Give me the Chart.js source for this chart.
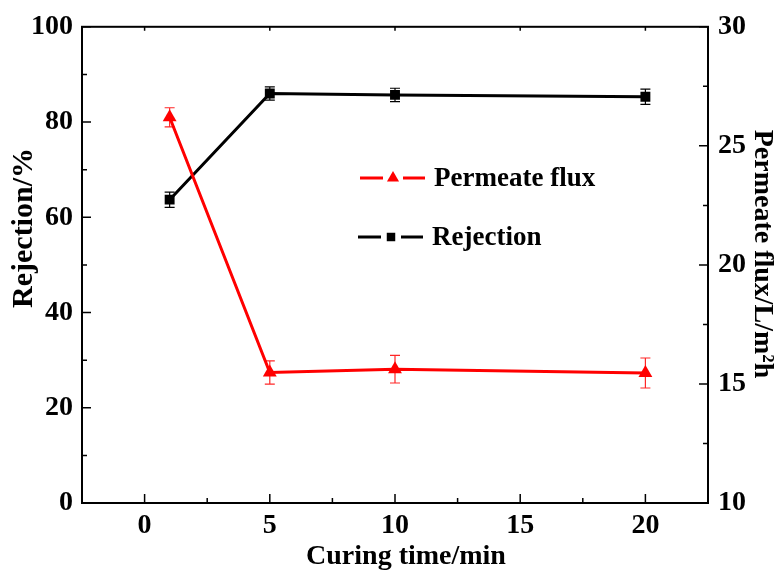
<!DOCTYPE html>
<html>
<head>
<meta charset="utf-8">
<script src="https://cdn.jsdelivr.net/npm/chart.js@4"></script>
<style>
  body { margin: 0; background: #fff; }
  #wrap { width: 783px; height: 581px; }
</style>
</head>
<body>
<div id="wrap"><canvas id="chart"></canvas></div>
<script>
const curingTime = [1, 5, 10, 20];
const rejection = [63.7, 86.0, 85.7, 85.3];
const rejectionErr = [1.6, 1.4, 1.4, 1.6];
const flux = [26.2, 15.48, 15.62, 15.46];
const fluxErr = [0.4, 0.49, 0.58, 0.63];
const xTicks = [0, 5, 10, 15, 20];
const leftTicks = [0, 20, 40, 60, 80, 100];
const rightTicks = [10, 15, 20, 25, 30];

const FONT = '"Liberation Serif", "Times New Roman", serif';

// error bars, drawn under the markers
const errorBars = {
    id: 'errorBars',
    beforeDatasetsDraw(chart) {
        const ctx = chart.ctx;
        chart.data.datasets.forEach((ds, i) => {
            const meta = chart.getDatasetMeta(i);
            const yScale = chart.scales[ds.yAxisID];
            ctx.save();
            ctx.strokeStyle = ds.errColor;
            ctx.lineWidth = 1.2;
            meta.data.forEach((pt, j) => {
                const v = ds.data[j].y;
                const e = ds.err[j];
                const top = yScale.getPixelForValue(v + e);
                const bot = yScale.getPixelForValue(v - e);
                ctx.beginPath();
                ctx.moveTo(pt.x, top); ctx.lineTo(pt.x, bot);
                ctx.moveTo(pt.x - 5, top); ctx.lineTo(pt.x + 5, top);
                ctx.moveTo(pt.x - 5, bot); ctx.lineTo(pt.x + 5, bot);
                ctx.stroke();
            });
            ctx.restore();
        });
    }
};

// frame, inward ticks, titles, legend
const decorations = {
    id: 'decorations',
    afterDraw(chart) {
        const ctx = chart.ctx;
        const a = chart.chartArea;
        const { x, y, y1 } = chart.scales;
        ctx.save();
        ctx.strokeStyle = '#000';
        ctx.lineWidth = 2;
        ctx.strokeRect(a.left, a.top, a.right - a.left, a.bottom - a.top);

        ctx.lineWidth = 1.5;
        ctx.beginPath();
        for (let v = -2.5; v <= 22.5; v += 2.5) {
            const px = x.getPixelForValue(v);
            const major = xTicks.includes(v);
            ctx.moveTo(px, a.bottom); ctx.lineTo(px, a.bottom - (major ? 9 : 5));
            if (major) { ctx.moveTo(px, a.top); ctx.lineTo(px, a.top + 4); }
        }
        for (let v = 0; v <= 100; v += 10) {
            const py = y.getPixelForValue(v);
            ctx.moveTo(a.left, py); ctx.lineTo(a.left + (v % 20 === 0 ? 9 : 5), py);
        }
        for (let v = 10; v <= 30; v += 2.5) {
            const py = y1.getPixelForValue(v);
            ctx.moveTo(a.right, py); ctx.lineTo(a.right - (v % 5 === 0 ? 9 : 5), py);
        }
        ctx.stroke();

        // axis titles
        ctx.fillStyle = '#000';
        ctx.font = 'bold 28px ' + FONT;
        ctx.textAlign = 'center';
        ctx.textBaseline = 'middle';
        ctx.fillText('Curing time/min', (a.left + a.right) / 2 + 11, 557);

        ctx.save();
        ctx.font = 'bold 30px ' + FONT;
        ctx.translate(24, 228);
        ctx.rotate(-Math.PI / 2);
        ctx.fillText('Rejection/%', 0, 0);
        ctx.restore();

        ctx.save();
        ctx.translate(762, 254);
        ctx.rotate(Math.PI / 2);
        ctx.fillText('Permeate flux/L/m\u00B2h', 0, 0);
        ctx.restore();

        // legend
        const items = [
            { ds: chart.data.datasets[0], lx: 360, ly: 178 },
            { ds: chart.data.datasets[1], lx: 358, ly: 237 }
        ];
        items.forEach(it => {
            ctx.strokeStyle = it.ds.borderColor;
            ctx.lineWidth = 3;
            ctx.beginPath();
            ctx.moveTo(it.lx, it.ly); ctx.lineTo(it.lx + 23, it.ly);
            ctx.moveTo(it.lx + 43, it.ly); ctx.lineTo(it.lx + 65, it.ly);
            ctx.stroke();
            ctx.fillStyle = it.ds.borderColor;
            Chart.helpers.drawPoint(ctx, {
                pointStyle: it.ds.pointStyle, radius: it.ds.pointStyle === 'rect' ? 6 : 7,
                borderWidth: 0, rotation: 0
            }, it.lx + 33, it.ly);
            ctx.fillStyle = '#000';
            ctx.font = 'bold 27px ' + FONT;
            ctx.textAlign = 'left';
            ctx.fillText(it.ds.label, it.lx + 74, it.ly + 1);
        });
        ctx.restore();
    }
};

const fluxPoints = curingTime.map((t, i) => ({ x: t, y: flux[i] }));
const rejectionPoints = curingTime.map((t, i) => ({ x: t, y: rejection[i] }));

new Chart(document.getElementById('chart'), {
    type: 'line',
    data: {
        datasets: [
            {
                label: 'Permeate flux',
                data: fluxPoints,
                err: fluxErr,
                errColor: 'rgba(255,0,0,0.85)',
                yAxisID: 'y1',
                borderColor: '#ff0000',
                backgroundColor: '#ff0000',
                borderWidth: 3,
                pointStyle: 'triangle',
                pointRadius: 8,
                pointBorderWidth: 0,
                tension: 0
            },
            {
                label: 'Rejection',
                data: rejectionPoints,
                err: rejectionErr,
                errColor: '#000',
                yAxisID: 'y',
                borderColor: '#000000',
                backgroundColor: '#000000',
                borderWidth: 3,
                pointStyle: 'rect',
                pointRadius: 7,
                pointBorderWidth: 0,
                tension: 0
            }
        ]
    },
    options: {
        responsive: true,
        maintainAspectRatio: false,
        animation: false,
        layout: { padding: { top: 24, left: 0, right: 0, bottom: 0 } },
        plugins: { legend: { display: false }, tooltip: { enabled: false } },
        scales: {
            x: {
                type: 'linear',
                min: -2.5,
                max: 22.5,
                afterBuildTicks: s => { s.ticks = xTicks.map(v => ({ value: v })); },
                afterFit: s => { s.height = 78; },
                grid: { display: false, drawTicks: false },
                border: { display: false },
                ticks: { color: '#000', padding: 6, font: { family: FONT, size: 28, weight: 'bold' } }
            },
            y: {
                position: 'left',
                min: 0,
                max: 100,
                afterBuildTicks: s => { s.ticks = leftTicks.map(v => ({ value: v })); },
                afterFit: s => { s.width = 82; },
                grid: { display: false, drawTicks: false },
                border: { display: false },
                ticks: { color: '#000', padding: 9, font: { family: FONT, size: 28, weight: 'bold' } }
            },
            y1: {
                position: 'right',
                min: 10,
                max: 30,
                afterBuildTicks: s => { s.ticks = rightTicks.map(v => ({ value: v })); },
                afterFit: s => { s.width = 75; },
                grid: { display: false, drawTicks: false },
                border: { display: false },
                ticks: { color: '#000', padding: 10, font: { family: FONT, size: 28, weight: 'bold' } }
            }
        }
    },
    plugins: [errorBars, decorations]
});
</script>
</body>
</html>
